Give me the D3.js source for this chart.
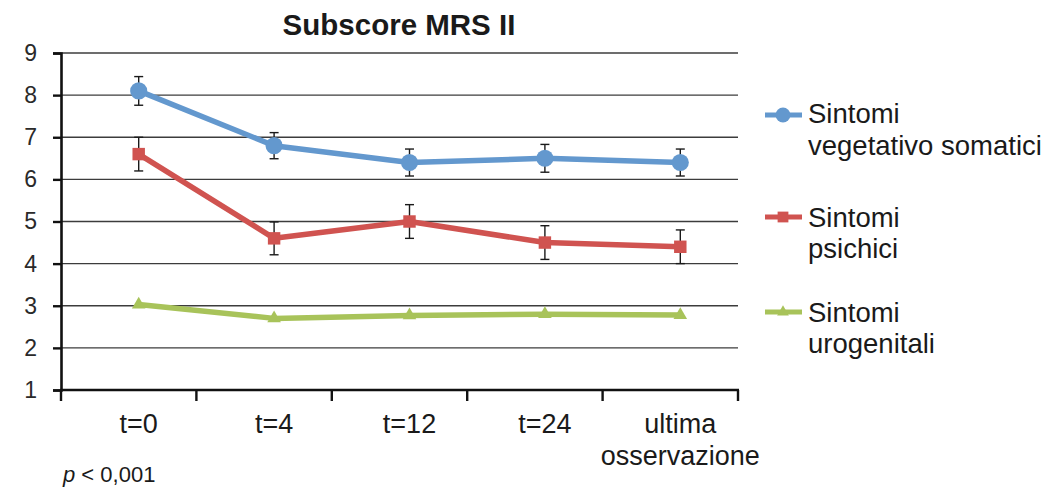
<!DOCTYPE html>
<html>
<head>
<meta charset="utf-8">
<script src="https://cdn.jsdelivr.net/npm/d3@7"></script>
<style>
  html, body { margin: 0; padding: 0; background: #fff; }
  svg { display: block; font-family: "Liberation Sans", Arial, sans-serif; }
</style>
</head>
<body>
<svg id="chart" width="1058" height="488"></svg>
<script>
// Time points of the follow-up
const categories = ["t=0", "t=4", "t=12", "t=24", "ultima osservazione"];
const categoryLines = [["t=0"], ["t=4"], ["t=12"], ["t=24"], ["ultima", "osservazione"]];

// Mean subscore per domain and its error (±)
const somatici = [8.1, 6.8, 6.4, 6.5, 6.4];
const somaticiErr = [0.34, 0.31, 0.32, 0.33, 0.32];
const psichici = [6.6, 4.6, 5.0, 4.5, 4.4];
const psichiciErr = [0.4, 0.39, 0.4, 0.4, 0.4];
const urogenitali = [3.03, 2.7, 2.77, 2.8, 2.78];

const seriesNames = [["Sintomi", "vegetativo somatici"], ["Sintomi", "psichici"], ["Sintomi", "urogenitali"]];
const yTicks = [1, 2, 3, 4, 5, 6, 7, 8, 9];
const titleText = "Subscore MRS II";
const noteText = "0,001";

const series = [
  { name: seriesNames[0], values: somatici, err: somaticiErr, color: "#6398CE", symbol: d3.symbolCircle, size: 230 },
  { name: seriesNames[1], values: psichici, err: psichiciErr, color: "#D05350", symbol: d3.symbolSquare, size: 155 },
  { name: seriesNames[2], values: urogenitali, err: null, color: "#A8C35A", symbol: d3.symbolTriangle, size: 80 }
];

const svg = d3.select("#chart");
const plot = { left: 61, right: 738, top: 53, bottom: 390 };

const x = d3.scaleBand().domain(categories).range([plot.left, plot.right]).padding(0);
const pointShift = 10;
const px = c => x(c) + x.bandwidth() / 2 + pointShift;
const y = d3.scaleLinear().domain([1, 9]).range([plot.bottom, plot.top]);

// Title
svg.append("text")
  .attr("x", 399).attr("y", 35)
  .attr("text-anchor", "middle")
  .attr("font-size", 29.5).attr("font-weight", "bold").attr("fill", "#1a1a1a")
  .text(titleText);

// Horizontal gridlines
svg.append("g").selectAll("line")
  .data(yTicks.slice(1))
  .join("line")
  .attr("x1", plot.left).attr("x2", plot.right)
  .attr("y1", d => y(d)).attr("y2", d => y(d))
  .attr("stroke", "#3c3c3c").attr("stroke-width", 1.4);

// Y axis
const yAxis = svg.append("g")
  .attr("transform", `translate(${plot.left},0)`)
  .call(d3.axisLeft(y).tickValues(yTicks).tickSize(8).tickPadding(16).tickFormat(d3.format("d")));
yAxis.select(".domain").attr("stroke", "#111").attr("stroke-width", 2.6);
yAxis.selectAll(".tick line").attr("stroke", "#111").attr("stroke-width", 2.4);
yAxis.selectAll(".tick text").attr("font-size", 23).attr("fill", "#2a2a2a")
  .attr("font-family", "Liberation Sans, Arial, sans-serif");

// X axis with ticks at band boundaries
const xAxis = svg.append("g")
  .attr("transform", `translate(0,${plot.bottom})`);
xAxis.append("line")
  .attr("x1", plot.left - 1).attr("x2", plot.right + 1)
  .attr("stroke", "#111").attr("stroke-width", 2.6);
const bounds = categories.map(c => x(c)).concat([x(categories[categories.length - 1]) + x.bandwidth()]);
xAxis.selectAll("line.tk")
  .data(bounds)
  .join("line").attr("class", "tk")
  .attr("x1", d => d).attr("x2", d => d)
  .attr("y1", 0).attr("y2", 11)
  .attr("stroke", "#111").attr("stroke-width", 2.4);

// Category labels
const catLabels = svg.append("g");
categories.forEach((c, i) => {
  const t = catLabels.append("text")
    .attr("x", px(c)).attr("y", 433)
    .attr("text-anchor", "middle")
    .attr("font-size", 27).attr("fill", "#1a1a1a");
  categoryLines[i].forEach((ln, j) => {
    t.append("tspan").attr("x", px(c)).attr("dy", j === 0 ? 0 : 32).text(ln);
  });
});

// p-value note
const note = svg.append("text")
  .attr("x", 63).attr("y", 482)
  .attr("font-size", 22).attr("fill", "#1a1a1a");
note.append("tspan").attr("font-style", "italic").text("p");
note.append("tspan").text(" < " + noteText);

// Error bars
const capW = 9;
series.filter(s => s.err).forEach(s => {
  const g = svg.append("g");
  categories.forEach((c, i) => {
    const cx = px(c);
    const top = y(s.values[i] + s.err[i]);
    const bot = y(s.values[i] - s.err[i]);
    g.append("line").attr("x1", cx).attr("x2", cx).attr("y1", top).attr("y2", bot)
      .attr("stroke", "#1a1a1a").attr("stroke-width", 1.4);
    [top, bot].forEach(yy => {
      g.append("line").attr("x1", cx - capW / 2).attr("x2", cx + capW / 2)
        .attr("y1", yy).attr("y2", yy)
        .attr("stroke", "#1a1a1a").attr("stroke-width", 1.4);
    });
  });
});

// Lines and markers
const line = d3.line().x((d, i) => px(categories[i])).y(d => y(d));
series.forEach(s => {
  svg.append("path")
    .datum(s.values)
    .attr("d", line)
    .attr("fill", "none")
    .attr("stroke", s.color)
    .attr("stroke-width", 5.5)
    .attr("stroke-linejoin", "round");
  svg.append("g").selectAll("path")
    .data(s.values)
    .join("path")
    .attr("transform", (d, i) => `translate(${px(categories[i])},${y(d)})`)
    .attr("d", d3.symbol().type(s.symbol).size(s.size))
    .attr("fill", s.color);
});

// Legend
const legendRows = [
  { markerY: 115, base1: 123, base2: 155 },
  { markerY: 217, base1: 227, base2: 258 },
  { markerY: 312, base1: 322, base2: 353 }
];
const legend = svg.append("g");
series.forEach((s, i) => {
  const r = legendRows[i];
  legend.append("line")
    .attr("x1", 765).attr("x2", 802)
    .attr("y1", r.markerY).attr("y2", r.markerY)
    .attr("stroke", s.color).attr("stroke-width", 5);
  legend.append("path")
    .attr("transform", `translate(783,${r.markerY})`)
    .attr("d", d3.symbol().type(s.symbol).size(s.size * 0.75))
    .attr("fill", s.color);
  const t = legend.append("text")
    .attr("x", 808).attr("y", r.base1)
    .attr("font-size", 27.5).attr("fill", "#1a1a1a");
  t.append("tspan").attr("x", 808).text(s.name[0]);
  t.append("tspan").attr("x", 808).attr("dy", r.base2 - r.base1).text(s.name[1]);
});
</script>
</body>
</html>
